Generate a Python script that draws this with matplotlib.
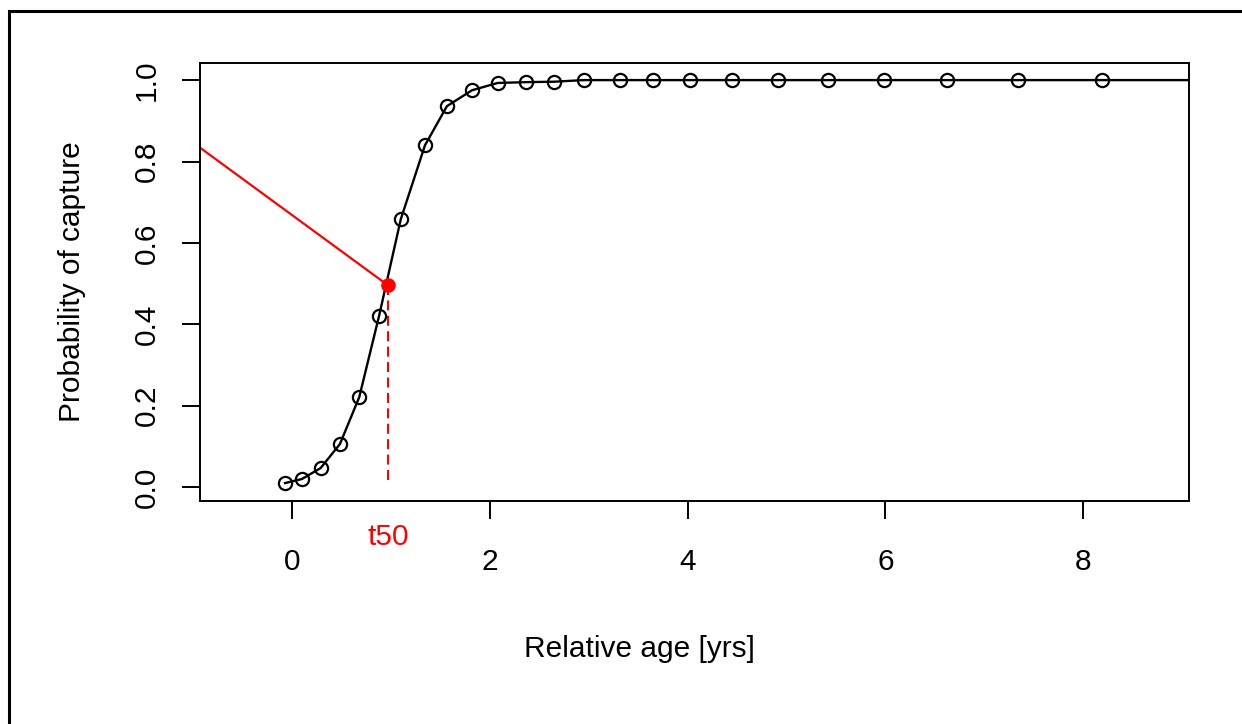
import matplotlib
matplotlib.use("Agg")
import matplotlib.pyplot as plt
from matplotlib.patches import Rectangle

plt.rcParams["font.family"] = ["Liberation Sans", "DejaVu Sans"]

# Observed capture probabilities by relative age
age = [-0.07, 0.10, 0.29, 0.485, 0.68, 0.88, 1.10, 1.345, 1.567, 1.82,
       2.08, 2.37, 2.65, 2.95, 3.32, 3.65, 4.02, 4.45, 4.91, 5.42,
       5.99, 6.62, 7.34, 8.19]
prob = [0.010, 0.020, 0.047, 0.106, 0.221, 0.420, 0.658, 0.840, 0.936, 0.975,
        0.993, 0.995, 0.996, 1.0, 1.0, 1.0, 1.0, 1.0, 1.0, 1.0,
        1.0, 1.0, 1.0, 1.0]
# curve continues flat to the right edge
curve_x = age + [9.5]
curve_y = prob + [1.0]

# t50 marker and guide lines
t50_x = 0.97
t50_y = 0.496
guide_x = [-0.93, t50_x]
guide_y = [0.834, t50_y]
drop_y = [t50_y, 0.012]

xticks = [0, 2, 4, 6, 8]
yticks = [0.0, 0.2, 0.4, 0.6, 0.8, 1.0]

W, H = 1242, 724
fig = plt.figure(figsize=(W / 100, H / 100), dpi=100)
ax = fig.add_axes([200 / W, 1 - 501 / H, 989 / W, 438 / H])

ax.plot(curve_x, curve_y, color="black", lw=1.7, zorder=2)
ax.plot(age, prob, linestyle="none", marker="o", ms=9.5, mfc="none",
        mec="black", mew=1.6, zorder=3)
ax.plot(guide_x, guide_y, color="red", lw=1.6, zorder=2)
ax.plot([t50_x, t50_x], drop_y, color="red", lw=1.5,
        dashes=(4.8, 2.6), zorder=2)
ax.plot([t50_x], [t50_y], marker="o", ms=9.5, color="red", mec="red", zorder=4)

ax.set_xlim(-0.93, 9.07)
ax.set_ylim(-0.034, 1.042)
ax.set_xticks(xticks)
ax.set_xticklabels([str(t) for t in xticks])
ax.set_yticks(yticks)
ax.set_yticklabels([f"{t:.1f}" for t in yticks], rotation=90, va="center")

for s in ax.spines.values():
    s.set_linewidth(1.4)
ax.tick_params(axis="both", direction="out", length=13, width=1.4,
               labelsize=21.5, colors="black")
ax.tick_params(axis="x", pad=21)
ax.tick_params(axis="y", pad=15)

ax.text(t50_x, -(545 - 501) / 438, "t50", color="red", fontsize=21.5,
        ha="center", va="baseline",
        transform=ax.get_xaxis_transform(), clip_on=False)

fig.text(639 / W, 1 - 657 / H, "Relative age [yrs]", fontsize=21.5,
         ha="center", va="baseline")
fig.text(72 / W, 1 - 282 / H, "Probability of capture", fontsize=21.5,
         ha="center", va="center", rotation=90)

fig.add_artist(Rectangle((8.5 / W, -0.1), 1.2, (1 - 10.5 / H) + 0.1,
                         transform=fig.transFigure, fill=False,
                         edgecolor="black", lw=2.2))

fig.savefig("out.png", dpi=100)
